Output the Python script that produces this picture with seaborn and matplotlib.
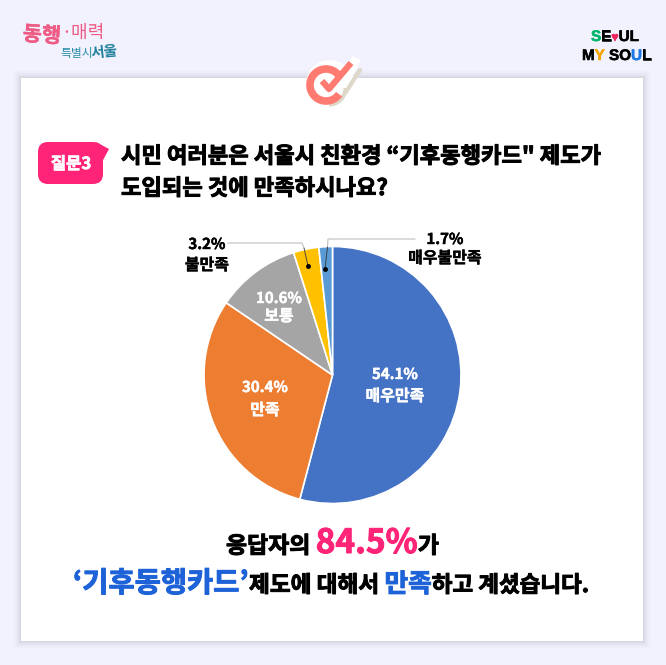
import matplotlib
matplotlib.use("Agg")
import matplotlib.pyplot as plt
import matplotlib.patheffects as pe
from matplotlib.patches import Rectangle, FancyBboxPatch, Polygon, Arc, Circle
import seaborn as sns

categories = ["매우만족", "만족", "보통", "불만족", "매우불만족"]
values = [54.1, 30.4, 10.6, 3.2, 1.7]
colors = ["#4472C4", "#ED7D31", "#A5A5A5", "#FFC000", "#5B9BD5"]
question = ["시민 여러분은 서울시 친환경 “기후동행카드\" 제도가", "도입되는 것에 만족하시나요?"]

sns.set_theme(style="white")
FONT = ["Noto Sans CJK KR", "DejaVu Sans"]
plt.rcParams["font.family"] = FONT

W, H = 666, 665
BG = "#F2F2FE"
fig = plt.figure(figsize=(W / 100, H / 100), dpi=100, facecolor=BG)
bg = fig.add_axes([0, 0, 1, 1])
bg.set_xlim(0, W); bg.set_ylim(H, 0); bg.axis("off")


def heavy(c, w=0.7):
    return [pe.withStroke(linewidth=w, foreground=c)]


# card with soft shadow
for i, a in zip(range(8, 0, -1), [.006, .008, .012, .016, .02, .028, .036, .05]):
    bg.add_patch(Rectangle((21 - i, 78 - i), 622 + 2 * i, 563 + 2 * i, color="#55556E", alpha=a, lw=0))
bg.add_patch(Rectangle((21, 78), 622, 563, color="white", lw=0, zorder=2))

# check badge
bg.add_patch(Circle((330, 84), 24, color="white", lw=0, zorder=3))
bg.add_patch(Polygon([[352, 56], [361, 60], [344, 92], [337, 88]], color="white", lw=0, zorder=3))
bg.add_patch(Arc((329, 88), 33, 33, theta1=0, theta2=90, color="#DDD8C8", lw=3, zorder=3))
bg.plot([360, 346], [70, 92], color="#DDD8C8", lw=3, zorder=3)
bg.add_patch(Arc((326, 85), 32, 32, theta1=35, theta2=325, color="#FF7B72", lw=5.5, zorder=4))
bg.plot([322, 329, 351], [81, 89, 63], color="#FF7B72", lw=4.5, zorder=4, solid_capstyle="butt")

# logos as text
bg.text(22, 35, "동행", color="#EE5C85", fontsize=15, fontweight="bold", va="center", ha="left", zorder=3, rotation=-4,
        path_effects=heavy("#EE5C85", 0.3))
bg.text(61, 33, "·매력", color="#EE5C85", fontsize=13, va="center", ha="left", zorder=3)
bg.text(60, 53, "특별시", color="#2B8FA8", fontsize=8.5, va="center", ha="left", zorder=3)
bg.text(90, 52, "서울", color="#1F7F9A", fontsize=10.5, fontweight="bold", va="center", ha="left", zorder=3, rotation=6)


def spans(y, x, parts, w=0.7, family=None):
    r = fig.canvas.get_renderer()
    for s, c, fs in parts:
        t = bg.text(x, y, s, color=c, fontsize=fs, fontweight="black", va="baseline", ha="left", zorder=5,
                    path_effects=heavy(c, w), family=family or FONT)
        x = t.get_window_extent(r).x1


LOGO = ["Liberation Sans", "DejaVu Sans"]
spans(41, 591, [("S", "#00B56A", 11), ("E", "black", 11), ("♥", "#F0245F", 9), ("UL", "black", 11)], 0.4, LOGO)
spans(60, 582, [("M", "black", 11), ("Y", "#F7A600", 11), (" SO", "black", 11), ("U", "#1E78E6", 11), ("L", "black", 11)], 0.4, LOGO)

# question badge
bg.add_patch(FancyBboxPatch((38, 142), 65, 42, boxstyle="round,pad=0,rounding_size=10", color="#FF2478", lw=0, zorder=3))
bg.add_patch(Polygon([[96, 142], [109, 149], [102, 162]], color="#FF2478", lw=0, zorder=3))
bg.text(71, 169, "질문3", color="white", fontsize=12, fontweight="black", ha="center", va="baseline", zorder=5,
        path_effects=heavy("white", 0.5))

spans(163, 121, [(question[0], "black", 16)])
spans(195, 121, [(question[1], "black", 16)])

# pie
cx, cy, rad = 332.5, 375, 128.5
ax = fig.add_axes([(cx - rad) / W, 1 - (cy + rad) / H, 2 * rad / W, 2 * rad / H])
ax.pie(values, colors=colors, startangle=90, counterclock=False, radius=1,
       wedgeprops=dict(edgecolor="white", linewidth=1.2))
ax.set_xlim(-1, 1); ax.set_ylim(-1, 1)
ax.set_zorder(3); ax.patch.set_alpha(0)

# in-pie labels
ov = fig.add_axes([0, 0, 1, 1], facecolor="none")
ov.set_xlim(0, W); ov.set_ylim(H, 0); ov.axis("off"); ov.set_zorder(6)
labels = [(395, 374, 395, 396, 0, "white"), (265, 387, 265, 410, 1, "white"), (279, 298, 279, 316, 2, "white"),
          (207, 244, 207, 265, 3, "black"), (445, 239, 445, 258, 4, "black")]
for x1, y1, x2, y2, i, c in labels:
    ov.text(x1, y1, f"{values[i]}%", color=c, fontsize=10.8, fontweight="bold", ha="center", va="center",
            path_effects=heavy(c, 0.3))
    ov.text(x2, y2, categories[i], color=c, fontsize=11.5, fontweight="bold", ha="center", va="center",
            path_effects=heavy(c, 0.3))

# leader lines
ov.plot([228, 302, 304], [243, 243, 248], color="#BFBFBF", lw=0.8)
ov.plot([304, 308], [248, 266], color="#333333", lw=0.6)
ov.plot([415, 328, 327.5], [239, 239, 247], color="#BFBFBF", lw=0.8)
ov.plot([327.5, 325], [247, 269], color="#333333", lw=0.6)
ov.plot([308], [266], "o", color="black", ms=2.5)
ov.plot([325], [269], "o", color="black", ms=2.5)

# conclusion
spans(553, 226, [("응답자의 ", "black", 16.5), ("84.5%", "#FF2478", 24), ("가", "black", 16.5)])
BLUE = "#1E62D8"
spans(592, 73, [("‘기후동행카드’", BLUE, 20.5), ("제도에 대해서 ", "black", 16.3), ("만족", BLUE, 18.5), ("하고 계셨습니다.", "black", 16.2)])

fig.savefig("out.png", dpi=100, facecolor=BG)
